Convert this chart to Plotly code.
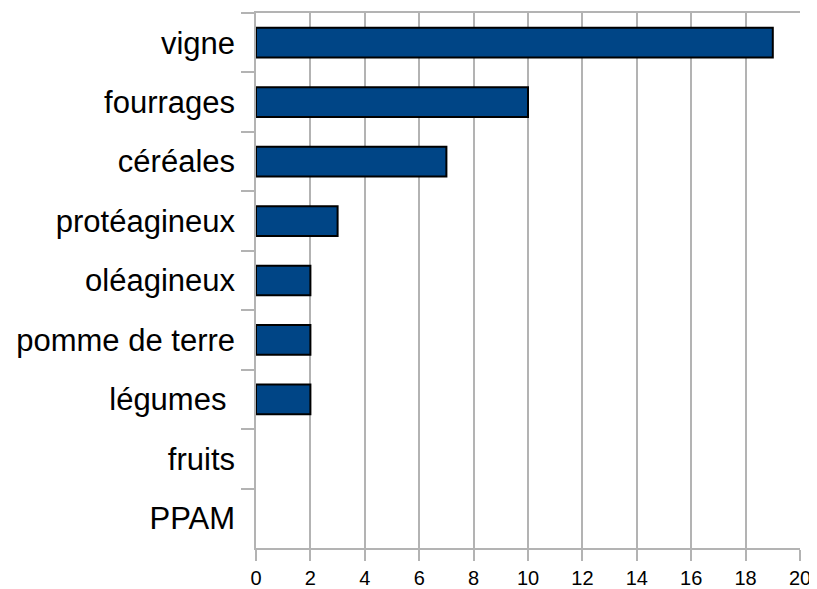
import plotly.graph_objects as go

categories = ["vigne", "fourrages", "céréales", "protéagineux", "oléagineux",
              "pomme de terre", "légumes\u00a0", "fruits", "PPAM"]
values = [19, 10, 7, 3, 2, 2, 2, 0, 0]
x_ticks = [0, 2, 4, 6, 8, 10, 12, 14, 16, 18, 20]

GRID = "#b3b3b3"

fig = go.Figure(go.Bar(
    y=categories, x=values, orientation="h",
    marker=dict(color="#004586",
                line=dict(color="#000000", width=[2 if v > 0 else 0 for v in values])),
    width=0.5,
))

# page body has an 8px default margin; size the figure so it fits the window
fig.update_layout(
    width=809, height=581,
    margin=dict(l=248, r=17, t=5, b=41),
    plot_bgcolor="white", paper_bgcolor="white",
    font=dict(family="Liberation Sans, Arial, sans-serif", color="#000000"),
    showlegend=False,
)
fig.update_xaxes(
    range=[0, 20], tickvals=x_ticks, ticktext=[str(v) for v in x_ticks],
    showgrid=True, gridcolor=GRID, gridwidth=1.5,
    showline=True, linecolor=GRID, linewidth=1.5, mirror=True,
    ticks="outside", ticklen=11, tickcolor=GRID, tickwidth=1.5,
    tickfont=dict(size=20), zeroline=False, automargin=False,
)
fig.update_yaxes(
    autorange="reversed", tickson="boundaries",
    showgrid=False, showline=True, linecolor=GRID, linewidth=1.5,
    ticks="outside", ticklen=13, tickcolor=GRID, tickwidth=1.5,
    tickfont=dict(size=31), automargin=False, ticklabelstandoff=13,
)

fig.write_html("out.html")
